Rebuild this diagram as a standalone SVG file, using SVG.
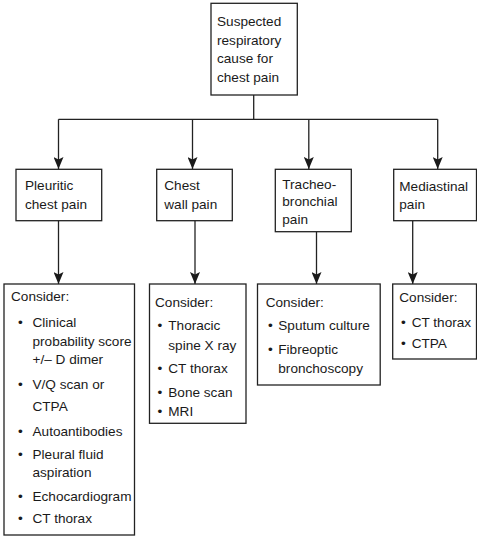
<svg xmlns="http://www.w3.org/2000/svg" width="477" height="543" viewBox="0 0 477 543">
  <defs>
    <marker id="arr" viewBox="0 0 12 10" refX="12" refY="5" markerWidth="12" markerHeight="10" markerUnits="userSpaceOnUse" orient="auto">
      <path d="M0,0 L12,5 L0,10 L2.5,5 Z" fill="#1a1a1a"/>
    </marker>
    <style>
      .box { fill: #ffffff; stroke: #222222; stroke-width: 1.3; }
      .t { font-family: "Liberation Sans", Arial, sans-serif; font-size: 13.6px; fill: #1a1a1a; }
      .ln { fill: none; stroke: #222222; stroke-width: 1.3; }
      .ar { fill: none; stroke: #222222; stroke-width: 1.3; marker-end: url(#arr); }
    </style>
  </defs>
  <rect width="477" height="543" fill="#ffffff"/>

  <g id="connectors">
    <line class="ln" x1="253.7" y1="95" x2="253.7" y2="119.3"/>
    <line class="ln" x1="58.5" y1="119.3" x2="437.7" y2="119.3"/>
    <line class="ar" x1="58.5" y1="119.3" x2="58.5" y2="169"/>
    <line class="ar" x1="192.5" y1="119.3" x2="192.5" y2="169"/>
    <line class="ar" x1="308.8" y1="119.3" x2="308.8" y2="169"/>
    <line class="ar" x1="437.7" y1="119.3" x2="437.7" y2="169"/>
    <line class="ar" x1="58.5" y1="220.7" x2="58.5" y2="284"/>
    <line class="ar" x1="195" y1="220.7" x2="195" y2="284"/>
    <line class="ar" x1="316.5" y1="231.7" x2="316.5" y2="284"/>
    <line class="ar" x1="412.7" y1="220.7" x2="412.7" y2="284"/>
  </g>

  <g id="root">
    <rect class="box" x="211" y="3.3" width="86.3" height="91.7"/>
    <text class="t" x="217" y="26">Suspected</text>
    <text class="t" x="217" y="44.5">respiratory</text>
    <text class="t" x="217" y="63">cause for</text>
    <text class="t" x="217" y="81.5">chest pain</text>
  </g>

  <g id="pleuritic">
    <rect class="box" x="16" y="169.3" width="85.7" height="51.4"/>
    <text class="t" x="25" y="190">Pleuritic</text>
    <text class="t" x="25" y="208.5">chest pain</text>
  </g>

  <g id="chestwall">
    <rect class="box" x="156.7" y="169.3" width="75.6" height="51.4"/>
    <text class="t" x="164.3" y="190">Chest</text>
    <text class="t" x="164.3" y="208.5">wall pain</text>
  </g>

  <g id="tracheo">
    <rect class="box" x="275.3" y="169.3" width="76" height="62.4"/>
    <text class="t" x="282.3" y="188.5">Tracheo-</text>
    <text class="t" x="282.3" y="206">bronchial</text>
    <text class="t" x="282.3" y="223.5">pain</text>
  </g>

  <g id="mediastinal">
    <rect class="box" x="393.7" y="169.3" width="82.8" height="51.4"/>
    <text class="t" x="399.3" y="190.5">Mediastinal</text>
    <text class="t" x="399.3" y="208.5">pain</text>
  </g>

  <g id="consider-pleuritic">
    <rect class="box" x="4" y="284" width="130.5" height="251"/>
    <text class="t" x="11" y="300.5">Consider:</text>
    <text class="t" x="18" y="327">•</text>
    <text class="t" x="32.5" y="327">Clinical</text>
    <text class="t" x="32.5" y="345.5">probability score</text>
    <text class="t" x="32.5" y="364">+/– D dimer</text>
    <text class="t" x="18" y="389">•</text>
    <text class="t" x="32.5" y="389">V/Q scan or</text>
    <text class="t" x="32.5" y="410.5">CTPA</text>
    <text class="t" x="18" y="436">•</text>
    <text class="t" x="32.5" y="436">Autoantibodies</text>
    <text class="t" x="18" y="458.5">•</text>
    <text class="t" x="32.5" y="458.5">Pleural fluid</text>
    <text class="t" x="32.5" y="477">aspiration</text>
    <text class="t" x="18" y="500.5">•</text>
    <text class="t" x="32.5" y="500.5">Echocardiogram</text>
    <text class="t" x="18" y="522.5">•</text>
    <text class="t" x="32.5" y="522.5">CT thorax</text>
  </g>

  <g id="consider-chestwall">
    <rect class="box" x="149.5" y="284" width="96.5" height="139.3"/>
    <text class="t" x="155" y="306.5">Consider:</text>
    <text class="t" x="157.5" y="330">•</text>
    <text class="t" x="168.3" y="330">Thoracic</text>
    <text class="t" x="168.3" y="350">spine X ray</text>
    <text class="t" x="157.5" y="373.3">•</text>
    <text class="t" x="168.3" y="373.3">CT thorax</text>
    <text class="t" x="157.5" y="397.3">•</text>
    <text class="t" x="168.3" y="397.3">Bone scan</text>
    <text class="t" x="157.5" y="416">•</text>
    <text class="t" x="168.3" y="416">MRI</text>
  </g>

  <g id="consider-tracheo">
    <rect class="box" x="257.5" y="284" width="122.7" height="101"/>
    <text class="t" x="265.7" y="306.5">Consider:</text>
    <text class="t" x="268" y="330">•</text>
    <text class="t" x="278.3" y="330">Sputum culture</text>
    <text class="t" x="268" y="354">•</text>
    <text class="t" x="278.3" y="354">Fibreoptic</text>
    <text class="t" x="278.3" y="373.3">bronchoscopy</text>
  </g>

  <g id="consider-mediastinal">
    <rect class="box" x="392.7" y="284" width="83.8" height="75"/>
    <text class="t" x="399.3" y="301.5">Consider:</text>
    <text class="t" x="401" y="326.7">•</text>
    <text class="t" x="411.7" y="326.7">CT thorax</text>
    <text class="t" x="401" y="348.3">•</text>
    <text class="t" x="411.7" y="348.3">CTPA</text>
  </g>
</svg>
